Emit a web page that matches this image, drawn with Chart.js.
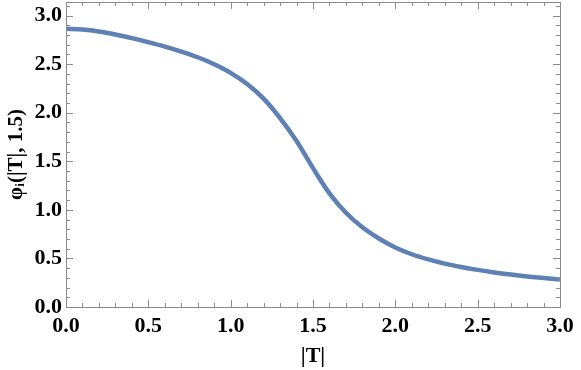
<!DOCTYPE html>
<html>
<head>
<meta charset="utf-8">
<script src="https://cdn.jsdelivr.net/npm/chart.js@4/dist/chart.umd.min.js"></script>
<style>
  html, body { margin: 0; padding: 0; background: #fff; }
  #wrap { width: 581px; height: 370px; }
</style>
</head>
<body>
<div id="wrap"><canvas id="c" width="581" height="370"></canvas></div>
<script>
// Data
const tValues = [0.0,0.1,0.2,0.3,0.4,0.5,0.6,0.7,0.8,0.9,1.0,1.1,1.2,1.3,1.4,1.5,1.6,1.7,1.8,1.9,2.0,2.1,2.2,2.3,2.4,2.5,2.6,2.7,2.8,2.9,3.0];
const phiValues = [2.865,2.857,2.837,2.806,2.768,2.726,2.681,2.630,2.571,2.499,2.41,2.295,2.145,1.945,1.71,1.43,1.17,0.97,0.82,0.705,0.613,0.543,0.49,0.447,0.412,0.382,0.356,0.334,0.315,0.298,0.283];
const xTickValues = [0, 0.5, 1, 1.5, 2, 2.5, 3];
const xTickLabels = ['0.0','0.5','1.0','1.5','2.0','2.5','3.0'];
const yTickValues = [0, 0.5, 1, 1.5, 2, 2.5, 3];
const yTickLabels = ['0.0','0.5','1.0','1.5','2.0','2.5','3.0'];

const points = tValues.map((t, i) => ({ x: t, y: phiValues[i] }));
const tickFont = { family: '"Liberation Serif", "Times New Roman", serif', size: 22, weight: 'bold' };
const frameColor = '#8a8a8a';

const framePlugin = {
  id: 'frame',
  afterDraw(chart) {
    const { ctx, chartArea: a, scales: { x, y } } = chart;
    ctx.save();
    ctx.strokeStyle = frameColor;
    ctx.lineWidth = 1;
    ctx.strokeRect(Math.round(a.left) + 0.5, Math.round(a.top) + 0.5, Math.round(a.right - a.left), Math.round(a.bottom - a.top));
    ctx.beginPath();
    for (let k = 0; k <= 30; k++) {
      const v = k / 10;
      const len = (k % 5 === 0) ? 7 : 4;
      const px = Math.round(x.getPixelForValue(v)) + 0.5;
      ctx.moveTo(px, a.bottom); ctx.lineTo(px, a.bottom - len);
      ctx.moveTo(px, a.top); ctx.lineTo(px, a.top + len);
    }
    for (let k = 0; k <= 31; k++) {
      const v = k / 10;
      const len = (k % 5 === 0) ? 7 : 4;
      const py = Math.round(y.getPixelForValue(v)) + 0.5;
      ctx.moveTo(a.left, py); ctx.lineTo(a.left + len, py);
      ctx.moveTo(a.right, py); ctx.lineTo(a.right - len, py);
    }
    ctx.stroke();
    ctx.restore();
  }
};

new Chart(document.getElementById('c'), {
  type: 'line',
  data: {
    datasets: [{
      data: points,
      borderColor: '#5e81b5',
      borderWidth: 4.5,
      pointRadius: 0,
      tension: 0.35,
      fill: false
    }]
  },
  options: {
    responsive: false,
    animation: false,
    events: [],
    layout: { padding: { left: 0, right: 21, top: 2, bottom: 0 } },
    plugins: { legend: { display: false }, tooltip: { enabled: false } },
    scales: {
      x: {
        type: 'linear',
        min: 0, max: 3,
        grid: { display: false, drawTicks: false },
        border: { display: false },
        afterBuildTicks: (s) => { s.ticks = xTickValues.map(v => ({ value: v })); },
        afterFit: (s) => { s.height = 63; s.paddingLeft = 0; s.paddingRight = 0; },
        ticks: {
          color: '#000',
          font: tickFont,
          padding: 6,
          maxRotation: 0,
          autoSkip: false,
          callback: (v) => xTickLabels[xTickValues.indexOf(v)]
        },
        title: {
          display: true,
          text: '|T|',
          color: '#000',
          font: { family: '"Liberation Serif", serif', size: 22, weight: 'bold' },
          padding: { top: 0, bottom: 0 }
        }
      },
      y: {
        type: 'linear',
        min: 0, max: 3.14,
        grid: { display: false, drawTicks: false },
        border: { display: false },
        afterBuildTicks: (s) => { s.ticks = yTickValues.map(v => ({ value: v })); },
        afterFit: (s) => { s.width = 66; s.paddingTop = 0; s.paddingBottom = 0; },
        ticks: {
          color: '#000',
          font: tickFont,
          padding: 4,
          autoSkip: false,
          callback: (v) => yTickLabels[yTickValues.indexOf(v)]
        },
        title: {
          display: true,
          text: 'φᵢ(|T|, 1.5)',
          color: '#000',
          font: { family: '"Liberation Serif", "DejaVu Serif", serif', size: 21, weight: 'bold' },
          padding: { top: 4, bottom: 0 }
        }
      }
    }
  },
  plugins: [framePlugin]
});
</script>
</body>
</html>
